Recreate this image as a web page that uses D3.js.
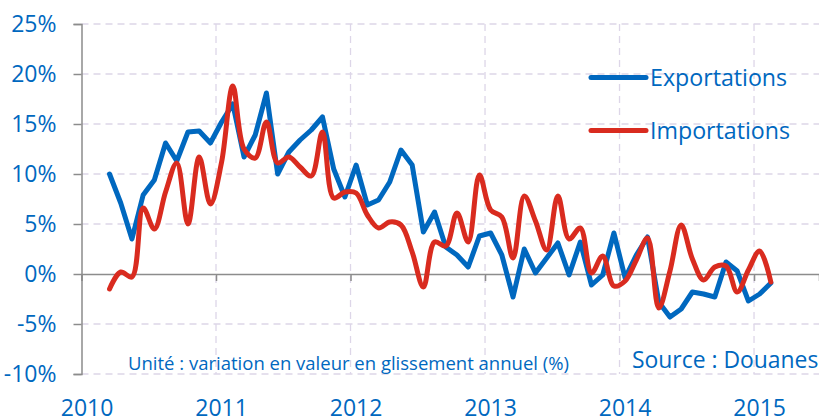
<!DOCTYPE html>
<html>
<head>
<meta charset="utf-8">
<script src="https://cdn.jsdelivr.net/npm/d3@7"></script>
<style>
  body { margin: 0; background: #fff; }
  text { font-family: "Open Sans", sans-serif; fill: #0068BF; }
</style>
</head>
<body>
<div id="chart"></div>
<script>
// monthly values, Mar 2010 -> Feb 2015 (% year on year)
var exportations = [
  10.0, 7.1, 3.5, 7.9, 9.4, 13.1, 11.3, 14.2, 14.3, 13.1,
  15.2, 17.0, 11.7, 13.9, 18.1, 10.0, 12.2, 13.4, 14.4, 15.7, 10.5, 7.7,
  10.9, 6.9, 7.4, 9.2, 12.4, 10.9, 4.2, 6.2, 2.7, 1.9, 0.7, 3.8,
  4.1, 1.9, -2.3, 2.5, 0.1, 1.6, 3.1, -0.1, 3.2, -1.1, -0.1, 4.1,
  -0.4, 1.9, 3.7, -2.8, -4.3, -3.5, -1.8, -2.0, -2.3, 1.2, 0.3, -2.7,
  -2.0, -0.9
];
var importations = [
  -1.5, 0.2, -0.3, 6.6, 4.5, 8.2, 11.1, 5.0, 11.7, 7.0,
  11.2, 18.8, 12.5, 11.6, 15.2, 11.1, 11.7, 10.7, 9.8, 14.2, 7.6, 8.2,
  8.1, 5.9, 4.6, 5.2, 4.9, 2.2, -1.3, 3.2, 2.8, 6.1, 3.2, 9.9,
  6.4, 5.7, 1.6, 7.8, 5.3, 2.4, 7.8, 3.5, 4.6, 0.1, 1.8, -1.2,
  -0.7, 1.4, 3.6, -3.4, 0.3, 4.9, 1.5, -0.6, 0.7, 0.8, -1.8, 0.4,
  2.3, -0.8
];
var years = [2010, 2011, 2012, 2013, 2014, 2015];
var yTicks = [-10, -5, 0, 5, 10, 15, 20, 25];
var seriesNames = ["Exportations", "Importations"];
var seriesColors = ["#0068BF", "#D92B1F"];

var W = 819, H = 418;
var margin = {top: 24, right: 0, bottom: 44, left: 81.5};

// month index -> fractional year (centre of the month)
var months = d3.timeMonth.range(new Date(2010, 2, 1), new Date(2015, 2, 1));
function monthPos(d) { return d.getFullYear() + (d.getMonth() + 0.5) / 12; }

var x = d3.scaleLinear().domain([2010, 2015.483]).range([margin.left, W]);
var y = d3.scaleLinear().domain([-10, 25]).range([374, margin.top]);

var svg = d3.select("#chart").append("svg")
  .attr("width", W).attr("height", H);

// grid
svg.append("g").selectAll("line").data(yTicks.filter(function(t){ return t != 0; }))
  .enter().append("line")
    .attr("x1", margin.left).attr("x2", W)
    .attr("y1", function(d){ return y(d); }).attr("y2", function(d){ return y(d); })
    .attr("stroke", "#DDD6E8").attr("stroke-width", 1.3)
    .attr("stroke-dasharray", "7,5");
svg.append("g").selectAll("line").data(years.slice(1))
  .enter().append("line")
    .attr("x1", function(d){ return x(d); }).attr("x2", function(d){ return x(d); })
    .attr("y1", y(25)).attr("y2", y(-10))
    .attr("stroke", "#DDD6E8").attr("stroke-width", 1.3)
    .attr("stroke-dasharray", "7,5");

// y axis
var yAxis = svg.append("g")
  .attr("transform", "translate(" + margin.left + ",0)")
  .call(d3.axisLeft(y).tickValues(yTicks).tickSize(8).tickPadding(17)
    .tickFormat(function(d){ return d + "%"; }));
yAxis.select(".domain").attr("stroke", "#8C8C8C").attr("stroke-width", 1.5);
yAxis.selectAll(".tick line").attr("stroke", "#8C8C8C").attr("stroke-width", 1.5);
yAxis.selectAll(".tick text").attr("font-size", 23).attr("fill", "#0068BF")
  .attr("font-family", "Open Sans");

// x axis on the 0% line
var xAxis = svg.append("g")
  .attr("transform", "translate(0," + y(0) + ")")
  .call(d3.axisBottom(x).tickValues(years).tickSize(7).tickFormat(""));
xAxis.select(".domain").attr("stroke", "#8C8C8C").attr("stroke-width", 1.5);
xAxis.selectAll(".tick line").attr("stroke", "#8C8C8C").attr("stroke-width", 1.5);

svg.append("g").selectAll("text").data(years)
  .enter().append("text")
    .attr("x", function(d){ return x(d + 0.5 / 12); })
    .attr("y", 416)
    .attr("text-anchor", "middle")
    .attr("font-size", 23)
    .text(function(d){ return d; });

// lines
var lineStraight = d3.line()
  .x(function(d, i){ return x(monthPos(months[i])); })
  .y(function(d){ return y(d); });
var lineSmooth = d3.line()
  .x(function(d, i){ return x(monthPos(months[i])); })
  .y(function(d){ return y(d); })
  .curve(d3.curveCatmullRom.alpha(0.5));

svg.append("path").datum(exportations)
  .attr("d", lineStraight)
  .attr("fill", "none").attr("stroke", seriesColors[0])
  .attr("stroke-width", 5).attr("stroke-linejoin", "round").attr("stroke-linecap", "round");
svg.append("path").datum(importations)
  .attr("d", lineSmooth)
  .attr("fill", "none").attr("stroke", seriesColors[1])
  .attr("stroke-width", 5).attr("stroke-linejoin", "round").attr("stroke-linecap", "round");

// legend
var legend = svg.append("g").selectAll("g").data(seriesNames)
  .enter().append("g")
    .attr("transform", function(d, i){ return "translate(591," + (77.5 + i * 53) + ")"; });
legend.append("line")
  .attr("x1", 0).attr("x2", 55)
  .attr("stroke", function(d, i){ return seriesColors[i]; })
  .attr("stroke-width", 5).attr("stroke-linecap", "round");
legend.append("text")
  .attr("x", 59).attr("dy", "0.36em")
  .attr("font-size", 23.2)
  .text(function(d){ return d; });

// notes
svg.append("text")
  .attr("x", 128).attr("y", 370)
  .attr("font-size", 18.5)
  .text("Unité : variation en valeur en glissement annuel (%)");
svg.append("text")
  .attr("x", 632).attr("y", 368)
  .attr("font-size", 22.9)
  .text("Source : Douanes");
</script>
</body>
</html>
